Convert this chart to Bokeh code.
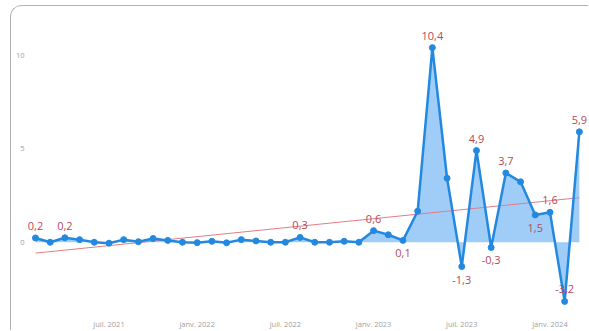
import numpy as np
from bokeh.plotting import figure
from bokeh.models import ColumnDataSource, FixedTicker, Range1d
from bokeh.embed import file_html
from bokeh.resources import INLINE
from bokeh.core.properties import value

months = ["2021-02", "2021-03", "2021-04", "2021-05", "2021-06", "2021-07", "2021-08",
          "2021-09", "2021-10", "2021-11", "2021-12", "2022-01", "2022-02", "2022-03",
          "2022-04", "2022-05", "2022-06", "2022-07", "2022-08", "2022-09", "2022-10",
          "2022-11", "2022-12", "2023-01", "2023-02", "2023-03", "2023-04", "2023-05",
          "2023-06", "2023-07", "2023-08", "2023-09", "2023-10", "2023-11", "2023-12",
          "2024-01", "2024-02", "2024-03"]
values = [0.23, 0.0, 0.24, 0.14, 0.0, -0.05, 0.14, 0.03, 0.2, 0.1, 0.0, -0.02, 0.05,
          -0.03, 0.14, 0.07, 0.0, 0.0, 0.26, 0.0, 0.0, 0.05, 0.0, 0.62, 0.4, 0.1, 1.66,
          10.4, 3.42, -1.3, 4.9, -0.28, 3.7, 3.23, 1.46, 1.6, -3.16, 5.9]
trend_months = ["2021-02", "2024-03"]
trend_values = [-0.58, 2.38]
tick_months = ["2021-07", "2022-01", "2022-07", "2023-01", "2023-07", "2024-01"]
tick_labels = ["juil. 2021", "janv. 2022", "juil. 2022", "janv. 2023", "juil. 2023", "janv. 2024"]
y_ticks = [0, 5, 10]
labeled_months = ["2021-02", "2021-04", "2022-08", "2023-01", "2023-03", "2023-05", "2023-07",
                  "2023-08", "2023-09", "2023-10", "2023-12", "2024-01", "2024-02", "2024-03"]
label_side = ["above", "above", "above", "above", "below", "above", "below",
              "above", "below", "above", "below", "above", "above", "above"]

x = np.arange(len(months))
vals = np.array(values)

p = figure(width=578, height=325, output_backend="svg", toolbar_location=None,
           x_range=Range1d(-0.544, 37.69), y_range=Range1d(-3.70, 12.01),
           min_border_left=16, min_border_right=0, min_border_top=11, min_border_bottom=17,
           background_fill_color="white", border_fill_color="white")
p.styles = {"margin-left": "10px", "margin-top": "5px",
            "border-top": "1px solid #b0b0b0", "border-left": "1px solid #b0b0b0",
            "border-right": "none", "border-bottom": "none",
            "border-radius": "12px 0px 0px 0px", "overflow": "hidden"}
p.outline_line_color = None
p.grid.visible = False

src = ColumnDataSource(dict(x=x, y=vals, zero=np.zeros(len(x))))
p.varea(x="x", y1="zero", y2="y", source=src, fill_color="#9fcdf8", fill_alpha=1.0)

p.line([months.index(m) for m in trend_months], trend_values,
       line_color="#e27d84", line_width=1)

p.line(x="x", y="y", source=src, line_color="#2389e0", line_width=2.5)
p.scatter(x="x", y="y", source=src, size=6, fill_color="#2389e0", line_color="#2389e0")

lx, ly, lt, lo = [], [], [], []
for m, side in zip(labeled_months, label_side):
    i = months.index(m)
    lx.append(i)
    ly.append(values[i])
    lt.append(f"{values[i]:.1f}".replace(".", ","))
    lo.append(-12 if side == "above" else 13)
lsrc = ColumnDataSource(dict(x=lx, y=ly, t=lt, o=lo))
p.text(x="x", y="y", text="t", y_offset="o", source=lsrc, text_align="center",
       text_baseline="middle", text_font=value("Open Sans"), text_font_size="11px",
       text_color="#b5495b")

p.xaxis.ticker = FixedTicker(ticks=[months.index(m) for m in tick_months])
p.xaxis.major_label_overrides = {months.index(m): l for m, l in zip(tick_months, tick_labels)}
p.yaxis.ticker = FixedTicker(ticks=y_ticks)
for ax in (p.xaxis, p.yaxis):
    ax.axis_line_color = None
    ax.major_tick_line_color = None
    ax.minor_tick_line_color = None
    ax.major_label_text_font = "Open Sans"
    ax.major_label_text_font_size = "7.5px"
    ax.major_label_text_color = "#a0a0a0"
p.yaxis.major_tick_out = 0
p.yaxis.major_label_standoff = 3
p.xaxis.major_tick_out = 0
p.xaxis.major_label_standoff = 7

open("out.html", "w").write(file_html(p, INLINE))
